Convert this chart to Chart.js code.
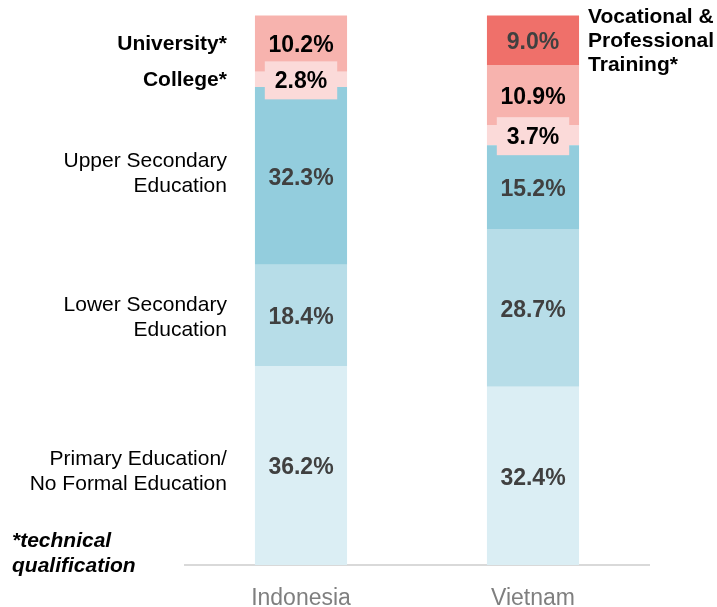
<!DOCTYPE html>
<html><head><meta charset="utf-8">
<script src="https://cdn.jsdelivr.net/npm/chart.js@4"></script>
<style>html,body{margin:0;padding:0;background:#fff}#wrap{width:717px;height:607px;position:relative}</style>
</head><body><div id="wrap"><canvas id="c"></canvas></div>
<script>
const countries = ['Indonesia', 'Vietnam'];
const seriesNames = [
  ['Primary Education/', 'No Formal Education'],
  ['Lower Secondary', 'Education'],
  ['Upper Secondary', 'Education'],
  ['College*'],
  ['University*'],
  ['Vocational &', 'Professional', 'Training*']
];
const primary = [36.2, 32.4];
const lowerSecondary = [18.4, 28.7];
const upperSecondary = [32.3, 15.2];
const college = [2.8, 3.7];
const university = [10.2, 10.9];
const vocational = [null, 9.0];
const footnote = ['*technical', 'qualification'];

const colors = ['#dbeef4', '#b7dde8', '#93cddd', '#fbdad9', '#f7b3ae', '#ef706a'];
const labelColors = ['#404040', '#404040', '#404040', '#000000', '#000000', '#404040'];
const nameBold = [false, false, false, true, true, true];
const nameShift = [5, 1, -3.5, 0, 0, 0];
const boxed = [false, false, false, true, false, false];
const FONT = '"Liberation Sans", Arial, Helvetica, sans-serif';

const values = [primary, lowerSecondary, upperSecondary, college, university, vocational];
const datasets = values.map((d, i) => ({
  label: seriesNames[i].join(' '),
  data: d,
  backgroundColor: colors[i],
  borderWidth: 0,
  barPercentage: 0.397,
  categoryPercentage: 1.0
}));

const labelPlugin = {
  id: 'segLabels',
  afterDatasetsDraw(chart) {
    const ctx = chart.ctx;
    ctx.save();
    chart.data.datasets.forEach((ds, i) => {
      const meta = chart.getDatasetMeta(i);
      meta.data.forEach((bar, j) => {
        const v = ds.data[j];
        if (v == null) return;
        const yc = (bar.y + bar.base) / 2;
        const txt = v.toFixed(1) + '%';
        ctx.font = 'bold 23px ' + FONT;
        if (boxed[i]) {
          const w = ctx.measureText(txt).width + 20;
          ctx.fillStyle = colors[i];
          ctx.fillRect(bar.x - w / 2, yc - 18, w, 38);
        }
        ctx.fillStyle = labelColors[i];
        ctx.textAlign = 'center';
        ctx.textBaseline = 'middle';
        ctx.fillText(txt, bar.x, yc + 2.5);
      });
      // series names
      const isVoc = (i === 5);
      const bar = meta.data[isVoc ? 1 : 0];
      const v = ds.data[isVoc ? 1 : 0];
      if (v == null) return;
      const yc = (bar.y + bar.base) / 2 + nameShift[i];
      const lines = seriesNames[i];
      const lh = isVoc ? 24 : 25;
      ctx.font = (nameBold[i] ? 'bold ' : '') + '21px ' + FONT;
      ctx.fillStyle = '#000000';
      ctx.textBaseline = 'middle';
      ctx.textAlign = isVoc ? 'left' : 'right';
      const x = isVoc ? bar.x + bar.width / 2 + 9 : bar.x - bar.width / 2 - 28;
      lines.forEach((ln, k) => {
        ctx.fillText(ln, x, yc + (k - (lines.length - 1) / 2) * lh + 1);
      });
    });
    // footnote
    ctx.font = 'italic bold 21px ' + FONT;
    ctx.fillStyle = '#000000';
    ctx.textAlign = 'left';
    ctx.textBaseline = 'middle';
    footnote.forEach((ln, k) => ctx.fillText(ln, 12, 541 + k * 25));
    ctx.restore();
  }
};

new Chart(document.getElementById('c'), {
  type: 'bar',
  data: { labels: countries, datasets },
  options: {
    responsive: true,
    maintainAspectRatio: false,
    animation: false,
    layout: { padding: { left: 185, right: 68, top: 15, bottom: 0 } },
    plugins: { legend: { display: false }, tooltip: { enabled: false } },
    scales: {
      x: {
        stacked: true,
        grid: { display: false, drawTicks: false },
        border: { display: true, color: '#d9d9d9', width: 2 },
        ticks: { color: '#7f7f7f', font: { family: FONT, size: 23, lineHeight: 1 }, padding: 22 },
        afterFit: (s) => { s.height = 42; }
      },
      y: { stacked: true, display: false, min: 0, max: 100 }
    }
  },
  plugins: [labelPlugin]
});
</script>
</body></html>
